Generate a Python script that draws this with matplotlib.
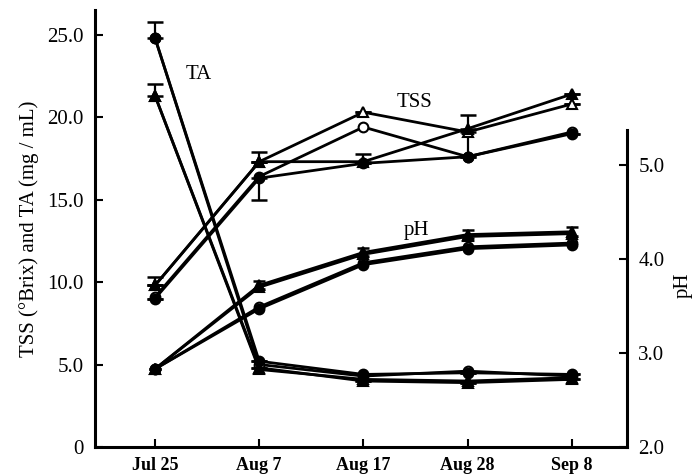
import matplotlib
matplotlib.use("Agg")
import matplotlib.pyplot as plt

plt.rcParams['font.family'] = ['Liberation Serif', 'DejaVu Serif']

dates = ["Jul 25", "Aug 7", "Aug 17", "Aug 28", "Sep 8"]

# TA (mg/mL), left axis
ta_filled_circle = [24.8, 5.2, 4.4, 4.5, 4.4]
ta_open_circle = [24.8, 5.0, 4.3, 4.6, 4.3]
ta_filled_tri = [21.3, 4.8, 4.0, 3.9, 4.1]
ta_open_tri = [21.3, 4.7, 4.1, 4.0, 4.2]

# TSS (°Brix), left axis
tss_filled_tri = [9.8, 17.3, 17.3, 19.3, 21.4]
tss_open_tri = [9.8, 17.3, 20.3, 19.1, 20.8]
tss_open_circle = [9.1, 16.4, 19.4, 17.6, 19.1]
tss_filled_circle = [9.0, 16.3, 17.2, 17.6, 19.0]

# pH, right axis
ph_filled_tri = [2.83, 3.72, 4.07, 4.26, 4.29]
ph_open_tri = [2.83, 3.70, 4.05, 4.24, 4.27]
ph_open_circle = [2.83, 3.49, 3.96, 4.13, 4.17]
ph_filled_circle = [2.83, 3.47, 3.94, 4.11, 4.15]

# error bars (lower, upper)
ta_circle_err = ([0, 0, 0, 0, 0], [1.0, 0, 0, 0, 0])
ta_tri_err = ([0, 0, 0, 0, 0], [0.7, 0, 0, 0, 0])
tss_tri_err = ([0, 0, 0, 0, 0], [0.5, 0.6, 0.45, 0.85, 0])
tss_circle_err = ([0, 1.3, 0, 0, 0], [0, 0, 0, 0, 0])
tss_open_tri_down = ([0, 0, 0, 1.4, 0], [0, 0, 0, 0, 0])
ph_err = ([0, 0.04, 0.04, 0.04, 0.04], [0, 0.05, 0.05, 0.05, 0.05])

x = list(range(len(dates)))

fig = plt.figure(figsize=(6.96, 4.75), dpi=100)
ax = fig.add_axes([0.1365, 0.059, 0.7645, 0.92])
ax2 = ax.twinx()

lw = 2.0
ms = 7

def plot_series(a, vals, marker, filled, err=None, z=3, capsize=6):
    fc = 'black' if filled else 'white'
    if err is not None:
        a.errorbar(x, vals, yerr=err, fmt='none', ecolor='black', elinewidth=1.6,
                   capsize=capsize, capthick=1.8, zorder=z)
    a.plot(x, vals, color='black', lw=lw, marker=marker, ms=ms, mfc=fc,
           mec='black', mew=1.5, zorder=z + 1)

# TA
plot_series(ax, ta_open_circle, 'o', False, z=3)
plot_series(ax, ta_open_tri, '^', False, z=3)
plot_series(ax, ta_filled_circle, 'o', True, ta_circle_err, z=5)
plot_series(ax, ta_filled_tri, '^', True, ta_tri_err, z=5)
# TSS
plot_series(ax, tss_open_circle, 'o', False, z=3)
plot_series(ax, tss_open_tri, '^', False, tss_open_tri_down, z=3)
plot_series(ax, tss_filled_circle, 'o', True, tss_circle_err, z=5)
plot_series(ax, tss_filled_tri, '^', True, tss_tri_err, z=5)
# pH
plot_series(ax2, ph_open_circle, 'o', False, z=3)
plot_series(ax2, ph_open_tri, '^', False, z=3)
plot_series(ax2, ph_filled_circle, 'o', True, z=5)
plot_series(ax2, ph_filled_tri, '^', True, ph_err, z=5, capsize=4)

ax.set_xlim(-0.576, 4.53)
ax.set_ylim(0, 26.5)
ax2.set_ylim(2.0, 6.65)

ax.set_xticks(x)
ax.set_xticklabels(dates, fontsize=13, fontweight='bold')
ax.set_yticks([0, 5, 10, 15, 20, 25])
ax.set_yticklabels(["0", "5.0", "10.0", "15.0", "20.0", "25.0"], fontsize=15)
ax2.set_yticks([2, 3, 4, 5])
ax2.set_yticklabels(["2.0", "3.0", "4.0", "5.0"], fontsize=15)

ax.tick_params(axis='both', direction='in', length=6, width=1.5, pad=8)
ax.tick_params(axis='x', pad=7)
ax2.tick_params(axis='y', direction='in', length=6, width=1.5, pad=8)

for a in (ax, ax2):
    a.spines['top'].set_visible(False)
ax.spines['right'].set_visible(False)
ax2.spines['left'].set_visible(False)
ax2.spines['bottom'].set_visible(False)
ax.spines['left'].set_linewidth(2.2)
ax.spines['bottom'].set_linewidth(2.2)
ax2.spines['right'].set_linewidth(2.2)
ax2.spines['right'].set_bounds(2.0, 5.37)

ax.set_ylabel("TSS (°Brix) and TA (mg / mL)", fontsize=15, labelpad=6)
fig.text(0.981, 0.40, "pH", fontsize=15, rotation=90, ha='center', va='center')

ax.text(0.42, 22.6, "TA", fontsize=15, ha='center', va='center')
ax.text(2.49, 20.9, "TSS", fontsize=15, ha='center', va='center')
ax.text(2.51, 13.1, "pH", fontsize=15, ha='center', va='center')

fig.savefig("out.png", dpi=100)
